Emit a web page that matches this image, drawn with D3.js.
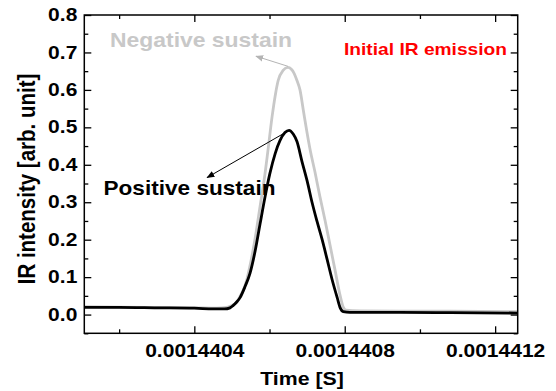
<!DOCTYPE html>
<html>
<head>
<meta charset="utf-8">
<script src="https://cdn.jsdelivr.net/npm/d3@7"></script>
<style>
  body { margin: 0; background: #fff; }
  text { font-family: "Liberation Sans", Arial, sans-serif; font-weight: bold; }
</style>
</head>
<body>
<div id="chart"></div>
<script>
// time values are stored as ns offsets from T0
var T0 = 0.0014404;

var positiveNs = [-293, -200, -100, 0, 50, 80, 95, 103, 112, 122, 135, 148, 162, 175, 188, 201, 215, 228, 241, 252, 263, 273, 286, 300, 313, 326, 340, 353, 366, 380, 388, 396, 414, 547, 681, 860];
var positiveVal = [0.019, 0.019, 0.018, 0.017, 0.015, 0.015, 0.018, 0.024, 0.033, 0.046, 0.075, 0.11, 0.171, 0.243, 0.314, 0.377, 0.43, 0.465, 0.486, 0.492, 0.482, 0.462, 0.41, 0.357, 0.30, 0.25, 0.20, 0.148, 0.095, 0.045, 0.018, 0.008, 0.006, 0.006, 0.005, 0.004];

var negativeNs = [-293, -200, -100, 0, 60, 85, 95, 105, 114, 122, 130, 140, 148, 162, 175, 188, 196, 207, 216, 223, 236, 249, 258, 265, 273, 281, 290, 299, 308, 321, 334, 348, 361, 374, 388, 396, 403, 441, 547, 681, 860];
var negativeVal = [0.021, 0.020, 0.019, 0.018, 0.017, 0.019, 0.022, 0.027, 0.034, 0.05, 0.065, 0.095, 0.13, 0.205, 0.29, 0.376, 0.44, 0.53, 0.59, 0.625, 0.652, 0.66, 0.655, 0.645, 0.625, 0.60, 0.545, 0.49, 0.44, 0.38, 0.315, 0.25, 0.185, 0.12, 0.05, 0.02, 0.012, 0.01, 0.009, 0.009, 0.008];

var xMajor = [0.0014404, 0.0014408, 0.0014412];
var xMinor = [0.0014402, 0.0014406, 0.001441];
var yMajor = [0.0, 0.1, 0.2, 0.3, 0.4, 0.5, 0.6, 0.7, 0.8];
var yMinor = [-0.05, 0.05, 0.15, 0.25, 0.35, 0.45, 0.55, 0.65, 0.75];

(function() {
  var width = 556, height = 391;
  var pl = 84.3, pr = 517.7, pt = 15, pb = 333.3;

  var svg = d3.select("#chart").append("svg")
    .attr("width", width)
    .attr("height", height);

  var x = d3.scaleLinear().domain([0.0014401074, 0.00144126]).range([pl, pr]);
  var y = d3.scaleLinear().domain([-0.05, 0.8]).range([pb, pt]);

  function series(ns, vals) {
    return ns.map(function(n, i) { return { t: T0 + n * 1e-9, v: vals[i] }; });
  }

  var line = d3.line()
    .x(function(d) { return x(d.t); })
    .y(function(d) { return y(d.v); })
    .curve(d3.curveMonotoneX);

  // stretch text horizontally, the reference glyphs are wider than Arial
  function stretch(sel, k) {
    sel.each(function() {
      var w = this.getComputedTextLength();
      d3.select(this).attr("textLength", w * k).attr("lengthAdjust", "spacingAndGlyphs");
    });
  }

  // curves
  svg.append("path")
    .datum(series(negativeNs, negativeVal))
    .attr("d", line)
    .attr("fill", "none")
    .attr("stroke", "#c8c8c8")
    .attr("stroke-width", 2.8);

  svg.append("path")
    .datum(series(positiveNs, positiveVal))
    .attr("d", line)
    .attr("fill", "none")
    .attr("stroke", "#000")
    .attr("stroke-width", 2.8);

  // axes, ticks inward on all four sides
  var xBottom = d3.axisBottom(x).tickValues(xMajor).tickSize(-7).tickPadding(11).tickFormat(d3.format(".7f"));
  var xBottomMinor = d3.axisBottom(x).tickValues(xMinor).tickSize(-4).tickFormat("");
  var xTop = d3.axisTop(x).tickValues(xMajor).tickSize(-7).tickFormat("");
  var xTopMinor = d3.axisTop(x).tickValues(xMinor).tickSize(-4).tickFormat("");
  var yLeft = d3.axisLeft(y).tickValues(yMajor).tickSize(-7).tickPadding(7).tickFormat(d3.format(".1f"));
  var yLeftMinor = d3.axisLeft(y).tickValues(yMinor).tickSize(-4).tickFormat("");
  var yRight = d3.axisRight(y).tickValues(yMajor).tickSize(-7).tickFormat("");
  var yRightMinor = d3.axisRight(y).tickValues(yMinor).tickSize(-4).tickFormat("");

  function drawAxis(ax, tx, ty) {
    var g = svg.append("g").attr("transform", "translate(" + tx + "," + ty + ")").call(ax);
    g.select(".domain").remove();
    g.selectAll(".tick line").attr("stroke", "#000").attr("stroke-width", 1.3);
    return g;
  }

  var gx = drawAxis(xBottom, 0, pb);
  drawAxis(xBottomMinor, 0, pb);
  drawAxis(xTop, 0, pt);
  drawAxis(xTopMinor, 0, pt);
  var gy = drawAxis(yLeft, pl, 0);
  drawAxis(yLeftMinor, pl, 0);
  drawAxis(yRight, pr, 0);
  drawAxis(yRightMinor, pr, 0);

  gx.selectAll(".tick text").attr("font-size", 17.5).attr("fill", "#000")
    .attr("font-family", "Liberation Sans, Arial, sans-serif").attr("font-weight", "bold").call(stretch, 1.2);
  gy.selectAll(".tick text").attr("font-size", 17.5).attr("fill", "#000")
    .attr("font-family", "Liberation Sans, Arial, sans-serif").attr("font-weight", "bold").call(stretch, 1.2);

  // frame
  svg.append("rect")
    .attr("x", pl).attr("y", pt)
    .attr("width", pr - pl).attr("height", pb - pt)
    .attr("fill", "none").attr("stroke", "#000").attr("stroke-width", 1.5);

  // axis titles
  svg.append("text")
    .attr("x", (pl + pr) / 2 + 1)
    .attr("y", 385)
    .attr("text-anchor", "middle")
    .attr("font-size", 19)
    .text("Time [S]")
    .call(stretch, 1.12);

  svg.append("text")
    .attr("transform", "translate(35,179) rotate(-90) scale(1,1.15)")
    .attr("text-anchor", "middle")
    .attr("font-size", 20.5)
    .text("IR intensity [arb. unit]");

  // arrows
  var defs = svg.append("defs");
  [["grey", "#b4b4b4"], ["black", "#000"]].forEach(function(m) {
    defs.append("marker")
      .attr("id", "arrow-" + m[0])
      .attr("viewBox", "0 0 10 10")
      .attr("refX", 9).attr("refY", 5)
      .attr("markerWidth", 8).attr("markerHeight", 8)
      .attr("markerUnits", "userSpaceOnUse")
      .attr("orient", "auto")
      .append("path")
      .attr("d", "M0,1 L10,5 L0,9 Z")
      .attr("fill", m[1]);
  });

  var arrows = [
    { from: [249, 0.663], to: [164, 0.69], color: "#b4b4b4", marker: "grey" },
    { from: [247, 0.489], to: [34, 0.366], color: "#000", marker: "black" }
  ];

  arrows.forEach(function(a) {
    svg.append("line")
      .attr("x1", x(T0 + a.from[0] * 1e-9)).attr("y1", y(a.from[1]))
      .attr("x2", x(T0 + a.to[0] * 1e-9)).attr("y2", y(a.to[1]))
      .attr("stroke", a.color).attr("stroke-width", 1)
      .attr("marker-end", "url(#arrow-" + a.marker + ")");
  });

  // annotations
  svg.append("text")
    .attr("x", 110).attr("y", 46.5)
    .attr("font-size", 20.5)
    .attr("fill", "#c8c8c8")
    .attr("textLength", 182).attr("lengthAdjust", "spacingAndGlyphs")
    .text("Negative sustain");

  svg.append("text")
    .attr("x", 103.5).attr("y", 195)
    .attr("font-size", 20.5)
    .attr("fill", "#000")
    .attr("textLength", 172).attr("lengthAdjust", "spacingAndGlyphs")
    .text("Positive sustain");

  svg.append("text")
    .attr("x", 344).attr("y", 55)
    .attr("font-size", 17)
    .attr("fill", "#f00")
    .attr("textLength", 163).attr("lengthAdjust", "spacingAndGlyphs")
    .text("Initial IR emission");
})();
</script>
</body>
</html>
